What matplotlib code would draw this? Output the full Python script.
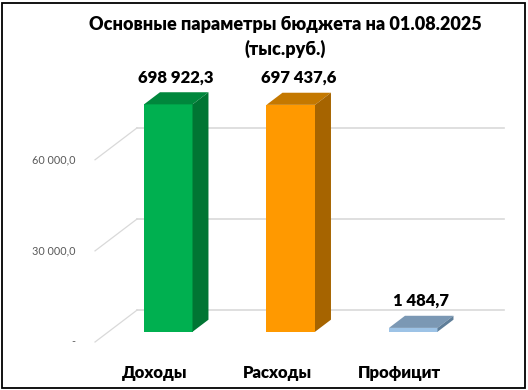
import matplotlib.pyplot as plt
from matplotlib.patches import Polygon, Rectangle

plt.rcParams["font.family"] = ["Lato", "DejaVu Sans"]

categories = ["Доходы", "Расходы", "Профицит"]
values = [698922.3, 697437.6, 1484.7]
tick_values = [0, 280000, 560000]
tick_labels = ["-", "30 000,0", "60 000,0"]
title = "Основные параметры бюджета на 01.08.2025\n(тыс.руб.)"

front_colors = ["#00b050", "#ff9900", "#9dc3e6"]
top_colors = ["#00873c", "#c47800", "#7b98b4"]
side_colors = ["#007533", "#a66400", "#5f7e99"]

# oblique "3D": offset of the back wall relative to the floor front
DX, DY = 0.343, 98000.0
BAR_D0, BAR_D1 = 0.32, 0.70
BAR_W = 0.396
MIN_H = 12000.0
BOLD = 800


def fmt(v):
    return f"{v:,.1f}".replace(",", " ").replace(".", ",")


fig = plt.figure(figsize=(5.28, 3.90), dpi=100)
ax = fig.add_axes([0, 0, 1, 1])
ax.set_xlim(-1.2637, 3.0465)
ax.set_ylim(-147500, 1051000)
ax.axis("off")

# back wall gridlines and left diagonal ticks
x_left, x_right = -0.488, 2.51
for t, lab in zip(tick_values, tick_labels):
    ax.plot([x_left + DX, x_right + DX], [t + DY, t + DY], color="#d9d9d9", lw=1.2, zorder=1)
    ax.plot([x_left, x_left + DX], [t, t + DY], color="#d9d9d9", lw=0.9, zorder=1)
    ax.text(x_left - 0.16, t, lab, ha="right", va="center", fontsize=7.8, color="#595959")

for i, (v, fc, tc, sc) in enumerate(zip(values, front_colors, top_colors, side_colors)):
    h = max(v, MIN_H)
    x0 = i - BAR_W / 2 + BAR_D0 * DX
    x1 = x0 + BAR_W
    y0 = BAR_D0 * DY
    ddx = (BAR_D1 - BAR_D0) * DX
    ddy = (BAR_D1 - BAR_D0) * DY
    ax.bar(x0 + BAR_W / 2, h, width=BAR_W, bottom=y0, color=fc, zorder=3)
    top = [(x0, y0 + h), (x1, y0 + h), (x1 + ddx, y0 + h + ddy), (x0 + ddx, y0 + h + ddy)]
    side = [(x1, y0), (x1 + ddx, y0 + ddy), (x1 + ddx, y0 + h + ddy), (x1, y0 + h)]
    ax.add_patch(Polygon(top, closed=True, facecolor=tc, edgecolor="none", zorder=3))
    ax.add_patch(Polygon(side, closed=True, facecolor=sc, edgecolor="none", zorder=3))
    ax.text(x0 + BAR_W / 2 + ddx / 2, y0 + h + ddy + 46000, fmt(v),
            ha="center", va="center", fontsize=12, fontweight=BOLD, color="black", zorder=4)
    ax.text(i, -95000, categories[i], ha="center", va="center",
            fontsize=12, fontweight=BOLD, color="black")

fig.text(0.54, 0.905, title, ha="center", va="center", fontsize=13,
         fontweight=BOLD, linespacing=1.4)

fig.patches.append(Rectangle((2 / 528, 2 / 390), 523 / 528, 385 / 390, transform=fig.transFigure,
                             fill=False, edgecolor="black", lw=1.3))

fig.savefig("out.png", dpi=100)
